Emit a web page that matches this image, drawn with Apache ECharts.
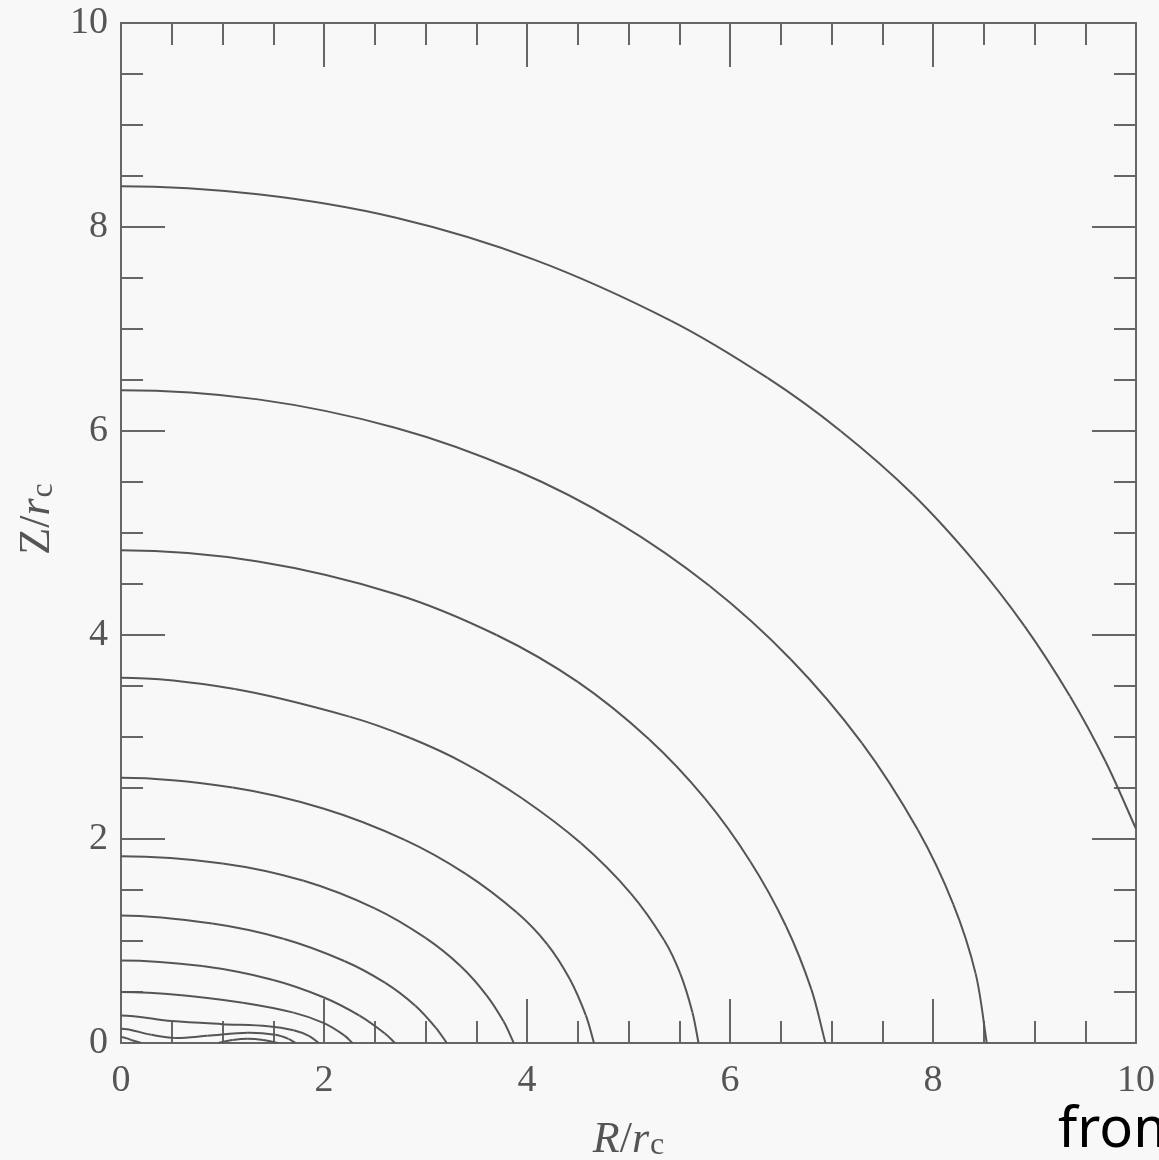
<!DOCTYPE html>
<html>
<head>
<meta charset="utf-8">
<script src="https://cdn.jsdelivr.net/npm/echarts@6/dist/echarts.min.js"></script>
<style>
html,body{margin:0;padding:0;background:#f8f8f8;}
#chart{width:1159px;height:1160px;}
</style>
</head>
<body>
<div id="chart"></div>
<script>
// Axis ticks / labels
const axisMin = 0;
const axisMax = 10;
const majorStep = 2;
const tickLabels = ['0', '2', '4', '6', '8', '10'];

// Contour lines, [R/rc, Z/rc] points
const contour1 = [[0,8.40],[1.35,8.32],[2.71,8.09],[4.07,7.68],[5.42,7.08],[6.37,6.52],[7.09,6.00],[7.80,5.38],[8.40,4.73],[8.90,4.09],[9.35,3.40],[9.70,2.76],[10,2.10]];
const contour2 = [[0,6.40],[1.35,6.31],[2.71,6.03],[3.90,5.61],[4.90,5.10],[5.80,4.48],[6.60,3.76],[7.30,2.94],[7.85,2.09],[8.20,1.36],[8.42,0.68],[8.53,0]];
const contour3 = [[0,4.83],[1.35,4.72],[2.71,4.40],[3.70,4.00],[4.50,3.54],[5.20,2.98],[5.75,2.40],[6.20,1.78],[6.55,1.15],[6.80,0.53],[6.94,0]];
const contour4 = [[0,3.58],[1.12,3.47],[2.25,3.20],[2.85,2.99],[3.39,2.74],[3.95,2.40],[4.53,1.96],[5.02,1.47],[5.35,1.01],[5.51,0.68],[5.63,0.30],[5.69,0]];
const contour5 = [[0,2.60],[1.1,2.504],[2.0,2.296],[2.8,1.989],[3.4,1.656],[3.9,1.279],[4.2,0.968],[4.42,0.629],[4.58,0.27],[4.66,0]];
const contour6 = [[0,1.83],[1.0,1.76],[1.8,1.59],[2.5,1.32],[3.0,1.03],[3.35,0.75],[3.6,0.47],[3.77,0.21],[3.87,0]];
const contour7 = [[0,1.25],[0.9,1.171],[1.6,1.022],[2.2,0.804],[2.6,0.591],[2.9,0.365],[3.1,0.151],[3.21,0]];
const contour8 = [[0,0.81],[0.8,0.754],[1.5,0.618],[2.0,0.446],[2.35,0.268],[2.6,0.093],[2.70,0]];
const contour9 = [[0,0.50],[0.6,0.469],[1.2,0.395],[1.7,0.298],[2.0,0.195],[2.2,0.075],[2.28,0]];
const contour10 = [[0,0.27],[0.5,0.215],[1.0,0.185],[1.45,0.165],[1.7,0.125],[1.85,0.07],[1.95,0]];
const contour11 = [[0,0.14],[0.30,0.08],[0.53,0.05],[0.85,0.07],[1.25,0.10],[1.52,0.08],[1.65,0.04],[1.72,0]];
const contour12 = [[0,0.06],[0.10,0.03],[0.20,0]];
const contour13 = [[0.95,0],[1.10,0.03],[1.25,0.042],[1.40,0.03],[1.55,0]];

const contours = [contour1, contour2, contour3, contour4, contour5, contour6, contour7,
                  contour8, contour9, contour10, contour11, contour12, contour13];

const axisColor = '#666';
const serif = "'Liberation Serif','Times New Roman',serif";

function makeAxis(position, showLabels, name, nameOpts) {
  const ax = {
    type: 'value',
    position: position,
    min: axisMin,
    max: axisMax,
    interval: majorStep,
    axisLine: { show: true, onZero: false, lineStyle: { color: axisColor, width: 2 } },
    axisTick: { show: true, inside: true, length: 44, lineStyle: { color: axisColor, width: 2 } },
    minorTick: { show: true, splitNumber: 4, length: 22, lineStyle: { color: axisColor, width: 2 } },
    splitLine: { show: false },
    minorSplitLine: { show: false },
    axisLabel: {
      show: showLabels,
      margin: position === 'bottom' ? 19 : 13,
      color: '#555',
      fontFamily: serif,
      fontSize: 38,
      formatter: function (v) { return tickLabels[Math.round((v - axisMin) / majorStep)]; }
    }
  };
  if (name) Object.assign(ax, nameOpts, { name: name });
  return ax;
}

const richName = {
  i: { fontFamily: serif, fontStyle: 'italic', fontSize: 44, color: '#555', lineHeight: 44, verticalAlign: 'top' },
  u: { fontFamily: serif, fontSize: 44, color: '#555', lineHeight: 44, verticalAlign: 'top' },
  s: { fontFamily: serif, fontSize: 32, color: '#555', lineHeight: 32, padding: [22, 0, 0, 1], verticalAlign: 'bottom' }
};

function dist(a, b) { return Math.hypot(b[0] - a[0], b[1] - a[1]) || 1e-6; }

// Smooth contour drawn through the read points (chord-weighted Catmull-Rom -> cubic Bezier, pixel space).
// At R = 0 the Z axis is a symmetry line, so the start tangent is horizontal.
function curveSeries(pts) {
  return {
    type: 'custom',
    coordinateSystem: 'cartesian2d',
    xAxisIndex: 0,
    yAxisIndex: 0,
    data: pts,
    encode: { x: 0, y: 1 },
    clip: true,
    silent: true,
    renderItem: function (params, api) {
      if (params.dataIndex !== 0) return null;
      const n = pts.length;
      const first = pts[0][0] === 0 ? [-pts[1][0], pts[1][1]]
        : [2 * pts[0][0] - pts[1][0], 2 * pts[0][1] - pts[1][1]];
      const last = [2 * pts[n - 1][0] - pts[n - 2][0], 2 * pts[n - 1][1] - pts[n - 2][1]];
      const ext = [first].concat(pts, [last]).map(function (p) { return api.coord(p); });
      const children = [];
      for (let i = 1; i < ext.length - 2; i++) {
        const p0 = ext[i - 1], p1 = ext[i], p2 = ext[i + 1], p3 = ext[i + 2];
        const d01 = dist(p0, p1), d12 = dist(p1, p2), d23 = dist(p2, p3);
        const k1 = d12 / (3 * (d01 + d12));
        const k2 = d12 / (3 * (d12 + d23));
        children.push({
          type: 'bezierCurve',
          shape: {
            x1: p1[0], y1: p1[1], x2: p2[0], y2: p2[1],
            cpx1: p1[0] + (p2[0] - p0[0]) * k1, cpy1: p1[1] + (p2[1] - p0[1]) * k1,
            cpx2: p2[0] - (p3[0] - p1[0]) * k2, cpy2: p2[1] - (p3[1] - p1[1]) * k2
          },
          style: { stroke: '#555', lineWidth: 2, fill: null }
        });
      }
      return { type: 'group', children: children };
    }
  };
}

const chart = echarts.init(document.getElementById('chart'), null, { renderer: 'canvas' });

chart.setOption({
  backgroundColor: '#f8f8f8',
  animation: false,
  grid: { left: 121, right: 23, top: 23, bottom: 117, containLabel: false, outerBoundsMode: 'none' },
  xAxis: [
    makeAxis('bottom', true, '{i|R}{u|/}{i|r}{s|c}', {
      nameLocation: 'middle', nameGap: 75,
      nameTextStyle: { rich: richName }
    }),
    makeAxis('top', false)
  ],
  yAxis: [
    makeAxis('left', true, '{u|Z/}{i|r}{s|c}', {
      nameLocation: 'middle', nameGap: 56, nameRotate: 90,
      nameTextStyle: { rich: richName, padding: [0, 0, 0, 28] }
    }),
    makeAxis('right', false)
  ],
  graphic: [{
    type: 'text',
    left: 1058,
    top: 1103,
    style: { text: 'from', fontFamily: "'Noto Sans','Open Sans',sans-serif", fontSize: 56, fill: '#000' }
  }],
  series: contours.map(curveSeries)
});
</script>
</body>
</html>
